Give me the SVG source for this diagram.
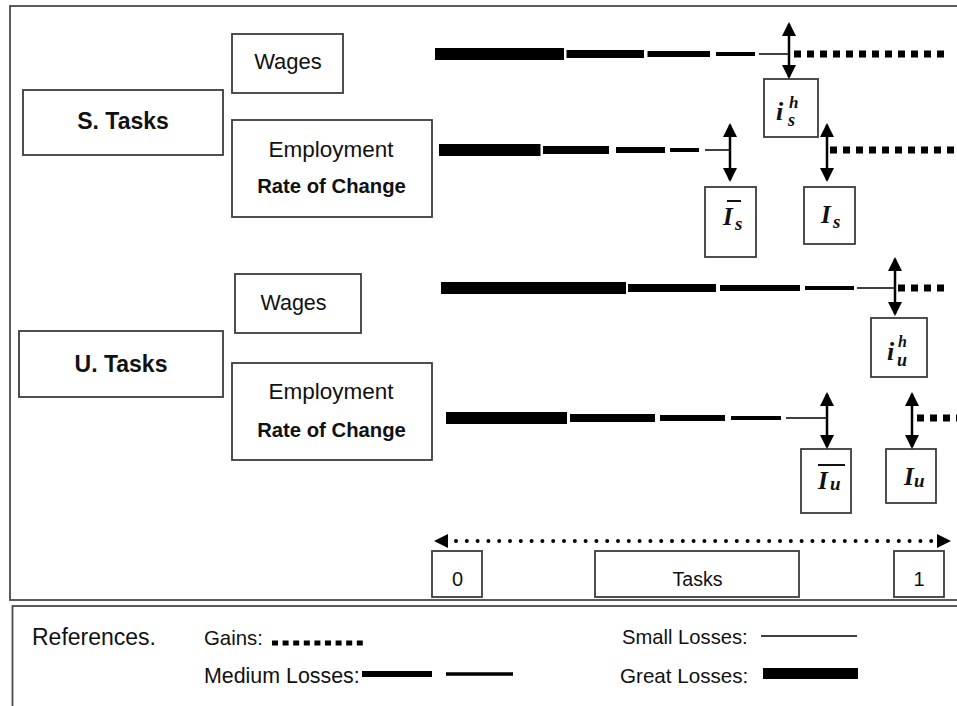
<svg xmlns="http://www.w3.org/2000/svg" width="957" height="706" viewBox="0 0 957 706">
<defs>
<style>
.box{fill:#fff;stroke:#3c3c3c;stroke-width:1.8}
.frame{fill:none;stroke:#4a4a4a;stroke-width:1.8}
.t{font-family:"Liberation Sans",Arial,sans-serif;fill:#111}
.b{font-weight:bold}
.m{font-family:"Liberation Serif","Times New Roman",serif;font-style:italic;font-weight:bold;fill:#111}
.ln{stroke:#000;fill:none}
.great{stroke-width:12}
.med1{stroke-width:8}
.med2{stroke-width:6}
.small{stroke-width:4}
.thin{stroke-width:1.5}
.gain{stroke-width:7;stroke-dasharray:7 6}
.arr{stroke:#000;stroke-width:2.5;marker-start:url(#ah);marker-end:url(#ah)}
.axis{stroke:#000;stroke-width:4;stroke-linecap:round;stroke-dasharray:0 10.8}
</style>
<marker id="ah" viewBox="0 0 14 14" markerUnits="userSpaceOnUse" markerWidth="14" markerHeight="14" refX="12" refY="7" orient="auto-start-reverse">
<path d="M0,0 L14,7 L0,14 z" fill="#000"/>
</marker>
</defs>
<rect width="957" height="706" fill="#fff"/>
<g id="frames">
<rect class="frame" x="10" y="6" width="952" height="594"/>
<rect class="frame" x="12.5" y="606" width="950" height="110"/>
</g>
<g id="s-tasks">
<rect class="box" x="23" y="90" width="200" height="65"/>
<text class="t b" x="123" y="129" font-size="23" text-anchor="middle">S. Tasks</text>
</g>
<g id="s-wages">
<rect class="box" x="232" y="34" width="111" height="59"/>
<text class="t" x="288" y="69" font-size="22" text-anchor="middle">Wages</text>
</g>
<g id="s-employment">
<rect class="box" x="232" y="120" width="200" height="97"/>
<text class="t" x="331" y="157" font-size="22.5" text-anchor="middle">Employment</text>
<text class="t b" x="331.5" y="193" font-size="20.3" text-anchor="middle">Rate of Change</text>
</g>
<g id="u-tasks">
<rect class="box" x="19" y="331" width="204" height="66"/>
<text class="t b" x="121" y="372" font-size="23" text-anchor="middle">U. Tasks</text>
</g>
<g id="u-wages">
<rect class="box" x="235" y="274" width="126" height="59"/>
<text class="t" x="293.5" y="310" font-size="21.5" text-anchor="middle">Wages</text>
</g>
<g id="u-employment">
<rect class="box" x="232" y="363" width="200" height="97"/>
<text class="t" x="331" y="399" font-size="22.5" text-anchor="middle">Employment</text>
<text class="t b" x="331.5" y="437" font-size="20.3" text-anchor="middle">Rate of Change</text>
</g>
<g id="label-ish-s">
<rect class="box" x="764" y="79" width="54" height="58"/>
<text class="m" x="776" y="120" font-size="26">i<tspan x="789" y="108" font-size="17">h</tspan><tspan x="788" y="126" font-size="18">s</tspan></text>
</g>
<g id="label-ibar-s">
<rect class="box" x="705" y="187" width="51" height="70"/>
<line x1="727" y1="201" x2="741" y2="201" stroke="#111" stroke-width="2"/>
<text class="m" x="723" y="225" font-size="25">I<tspan x="735" y="230" font-size="19">s</tspan></text>
</g>
<g id="label-i-s">
<rect class="box" x="804" y="187" width="51" height="57"/>
<text class="m" x="821" y="223" font-size="25">I<tspan x="833" y="228" font-size="19">s</tspan></text>
</g>
<g id="label-ish-u">
<rect class="box" x="871" y="318" width="56" height="59"/>
<text class="m" x="887" y="360" font-size="26">i<tspan x="898" y="347" font-size="16">h</tspan><tspan x="897" y="366" font-size="18">u</tspan></text>
</g>
<g id="label-ibar-u">
<rect class="box" x="801" y="449" width="50" height="64"/>
<line x1="818" y1="465" x2="845" y2="465" stroke="#111" stroke-width="2"/>
<text class="m" x="818" y="489" font-size="25">I<tspan x="830" y="490" font-size="19">u</tspan></text>
</g>
<g id="label-i-u">
<rect class="box" x="886" y="449" width="50" height="54"/>
<text class="m" x="904" y="485" font-size="25">I<tspan x="914" y="487" font-size="19">u</tspan></text>
</g>
<g id="connectors">
<g id="s-wages-line" class="ln">
<line class="great" x1="435" y1="54" x2="564" y2="54"/>
<line class="med1" x1="566.5" y1="54" x2="644" y2="54"/>
<line class="med2" x1="647.5" y1="54" x2="710" y2="54"/>
<line class="small" x1="716" y1="54" x2="755" y2="54"/>
<line class="thin" x1="759" y1="54" x2="789" y2="54"/>
<line class="gain" x1="794" y1="54" x2="945" y2="54"/>
<line class="arr" x1="789" y1="24" x2="789" y2="77"/>
</g>
<g id="s-emp-line" class="ln">
<line class="great" x1="439" y1="150" x2="540.5" y2="150"/>
<line class="med1" x1="543" y1="150" x2="609" y2="150"/>
<line class="med2" x1="616" y1="150" x2="665" y2="150"/>
<line class="small" x1="670" y1="150" x2="699" y2="150"/>
<line class="thin" x1="705" y1="150" x2="730" y2="150"/>
<line class="gain" x1="830" y1="150" x2="957" y2="150"/>
<line class="arr" x1="730" y1="125" x2="730" y2="180"/>
<line class="arr" x1="827" y1="125" x2="827" y2="180"/>
</g>
<g id="u-wages-line" class="ln">
<line class="great" x1="441" y1="288" x2="626" y2="288"/>
<line class="med1" x1="628" y1="288" x2="716" y2="288"/>
<line class="med2" x1="720" y1="288" x2="800" y2="288"/>
<line class="small" x1="805" y1="288" x2="854" y2="288"/>
<line class="thin" x1="857" y1="288" x2="895" y2="288"/>
<line class="gain" x1="898" y1="288" x2="947" y2="288"/>
<line class="arr" x1="895" y1="259" x2="895" y2="314"/>
</g>
<g id="u-emp-line" class="ln">
<line class="great" x1="446" y1="418" x2="567" y2="418"/>
<line class="med1" x1="570" y1="418" x2="655" y2="418"/>
<line class="med2" x1="660" y1="418" x2="725" y2="418"/>
<line class="small" x1="731" y1="418" x2="781" y2="418"/>
<line class="thin" x1="786" y1="418" x2="827" y2="418"/>
<line class="gain" x1="917" y1="418" x2="957" y2="418"/>
<line class="arr" x1="827" y1="394" x2="827" y2="447"/>
<line class="arr" x1="912" y1="394" x2="912" y2="447"/>
</g>
<g id="axis">
<line class="axis" x1="456" y1="541" x2="940" y2="541"/>
<path d="M434,541 L448,534 L448,548 z" fill="#000"/>
<path d="M951,541 L937,534 L937,548 z" fill="#000"/>
</g>
</g>
<g id="axis-labels">
<rect class="box" x="432" y="551" width="50" height="46"/>
<text class="t" x="457.5" y="586" font-size="20" text-anchor="middle">0</text>
<rect class="box" x="595" y="551" width="204" height="46"/>
<text class="t" x="697.5" y="586" font-size="19.5" text-anchor="middle">Tasks</text>
<rect class="box" x="894" y="551" width="50" height="46"/>
<text class="t" x="919" y="586" font-size="20" text-anchor="middle">1</text>
</g>
<g id="legend">
<text class="t" x="32" y="645" font-size="23">References.</text>
<text class="t" x="204" y="645" font-size="20.4">Gains:</text>
<line x1="272" y1="643" x2="363" y2="643" stroke="#000" stroke-width="5" stroke-dasharray="6 4.6"/>
<text class="t" x="204" y="683" font-size="21.4">Medium Losses:</text>
<line x1="362" y1="674" x2="432" y2="674" stroke="#000" stroke-width="6"/>
<line x1="446" y1="674" x2="513" y2="674" stroke="#000" stroke-width="3.5"/>
<text class="t" x="622" y="644" font-size="20.2">Small Losses:</text>
<line x1="761" y1="636" x2="857" y2="636" stroke="#000" stroke-width="1.5"/>
<text class="t" x="620" y="683" font-size="20.6">Great Losses:</text>
<rect x="763" y="668" width="95" height="11" fill="#000"/>
</g>
</svg>
